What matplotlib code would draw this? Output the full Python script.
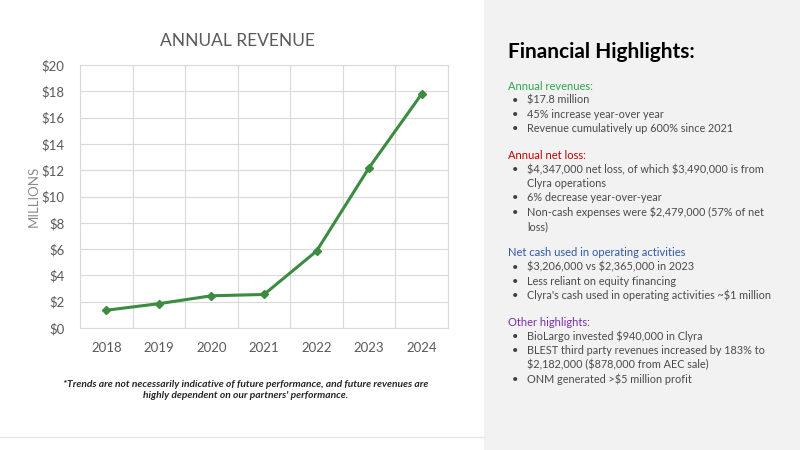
import matplotlib.pyplot as plt
from matplotlib.patches import Rectangle
from matplotlib.lines import Line2D

years = ['2018', '2019', '2020', '2021', '2022', '2023', '2024']
revenue = [1.35, 1.85, 2.45, 2.55, 5.85, 12.2, 17.8]
y_ticks = [0, 2, 4, 6, 8, 10, 12, 14, 16, 18, 20]

sections = [
    ('Annual revenues:', '#2ea44f', [
        ['$17.8 million'],
        ['45% increase year-over year'],
        ['Revenue cumulatively up 600% since 2021'],
    ]),
    ('Annual net loss:', '#c00000', [
        ['$4,347,000 net loss, of which $3,490,000 is from', 'Clyra operations'],
        ['6% decrease year-over-year'],
        ['Non-cash expenses were $2,479,000 (57% of net', 'loss)'],
    ]),
    ('Net cash used in operating activities', '#2f58a8', [
        ['$3,206,000 vs $2,365,000 in 2023'],
        ['Less reliant on equity financing'],
        ["Clyra's cash used in operating activities ~$1 million"],
    ]),
    ('Other highlights:', '#7a2fa8', [
        ['BioLargo invested $940,000 in Clyra'],
        ['BLEST third party revenues increased by 183% to', '$2,182,000 ($878,000 from AEC sale)'],
        ['ONM generated >$5 million profit'],
    ]),
]

footnote = ("*Trends are not necessarily indicative of future performance, and future revenues are\n"
            "highly dependent on our partners' performance.")

plt.rcParams['font.family'] = ['Lato', 'DejaVu Sans']
plt.rcParams['text.parse_math'] = False

fig = plt.figure(figsize=(8, 4.5), dpi=100)
W, H = 800, 450

# right gray panel
fig.patches.append(Rectangle((484 / W, 0), 1 - 484 / W, 1, transform=fig.transFigure,
                             facecolor='#f2f2f2', edgecolor='none', zorder=0))
fig.add_artist(Line2D([0, 484 / W], [1 - 437 / H, 1 - 437 / H], transform=fig.transFigure,
                      color='#e6e6e6', lw=1))

ax = fig.add_axes([80 / W, 1 - 328 / H, 368 / W, 263 / H])
x = list(range(len(years)))
ax.plot(x, revenue, color='#3b8b40', lw=2.2, marker='D', ms=4.5, zorder=3)
ax.set_xlim(-0.5, len(years) - 0.5)
ax.set_ylim(0, 20)
ax.set_yticks(y_ticks)
ax.set_yticklabels(['$%d' % v for v in y_ticks])
ax.set_xticks(x)
ax.set_xticklabels(years)
ax.set_xticks([i - 0.5 for i in range(len(years) + 1)], minor=True)
ax.grid(True, which='major', axis='y', color='#d9d9d9', lw=0.8)
ax.grid(True, which='minor', axis='x', color='#d9d9d9', lw=0.8)
ax.tick_params(axis='both', which='both', length=0, colors='#595959', labelsize=9.5)
ax.tick_params(axis='x', pad=10)
ax.tick_params(axis='y', pad=11)
for s in ax.spines.values():
    s.set_color('#d9d9d9')
    s.set_linewidth(0.8)
ax.set_ylabel('MILLIONS', color='#8c8c8c', fontsize=9.5, labelpad=1)
fig.text(237 / W, 1 - 41 / H, 'ANNUAL REVENUE', color='#595959', fontsize=12.5,
         ha='center', va='center')

fig.text(246 / W, 1 - 390 / H, footnote, ha='center', va='center', fontsize=7.4,
         fontweight='bold', style='italic', color='#262626', linespacing=1.3)

# right side text
fig.text(508 / W, 1 - 52 / H, 'Financial Highlights:', fontsize=15, fontweight='bold',
         color='black', va='center')
y = 86
step = 14.2
for head, col, bullets in sections:
    fig.text(508 / W, 1 - y / H, head, color=col, fontsize=8, va='center')
    y += step
    for lines in bullets:
        fig.text(512 / W, 1 - y / H, '\u2022', color='#404040', fontsize=8, va='center')
        for ln in lines:
            fig.text(527 / W, 1 - y / H, ln, color='#4a4a4a', fontsize=7.8, va='center')
            y += step
    y += 12.5

fig.savefig('out.png', dpi=100)
